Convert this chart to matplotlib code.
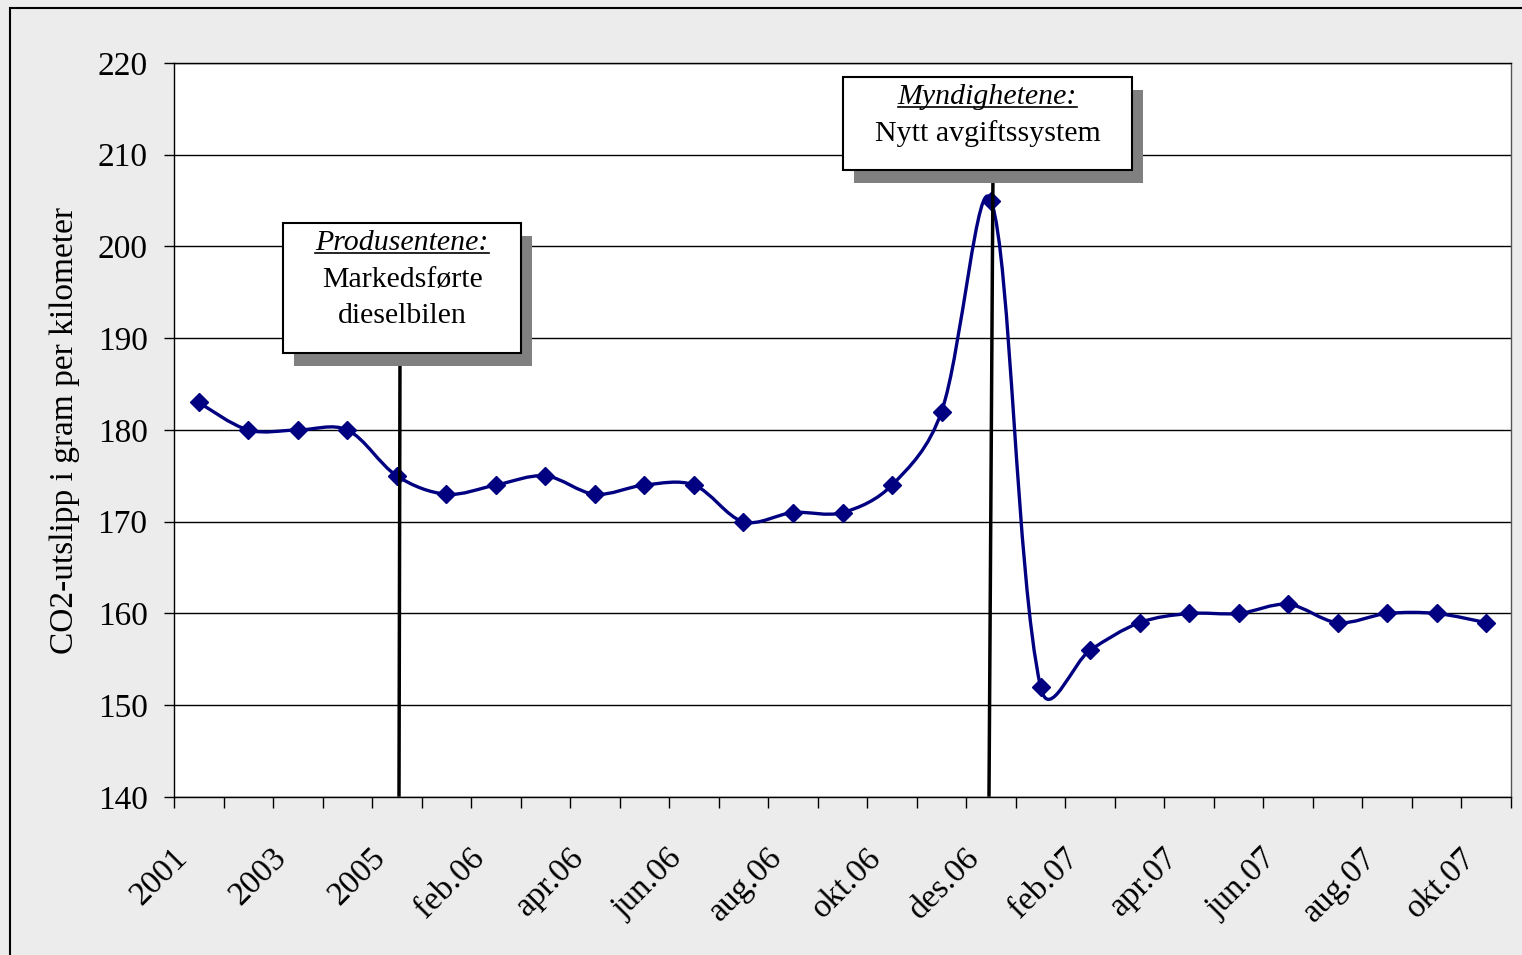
import numpy as np
import matplotlib
matplotlib.use("Agg")
import matplotlib.pyplot as plt
from matplotlib.path import Path
from matplotlib.patches import PathPatch, Rectangle
from matplotlib.lines import Line2D
import matplotlib.transforms as mtransforms

categories = ["2001", "2002", "2003", "2004", "2005", "jan.06", "feb.06", "mar.06",
              "apr.06", "mai.06", "jun.06", "jul.06", "aug.06", "sep.06", "okt.06",
              "nov.06", "des.06", "jan.07", "feb.07", "mar.07", "apr.07", "mai.07",
              "jun.07", "jul.07", "aug.07", "sep.07", "okt.07"]
values = [183, 180, 180, 180, 175, 173, 174, 175, 173, 174, 174, 170, 171, 171,
          174, 182, 205, 152, 156, 159, 160, 160, 161, 159, 160, 160, 159]
y_ticks = [140, 150, 160, 170, 180, 190, 200, 210, 220]
ylabel = "CO2-utslipp i gram per kilometer"
event_titles = ["Produsentene:", "Myndighetene:"]
event_lines = [["Markedsførte", "dieselbilen"], ["Nytt avgiftssystem"]]

W, H = 1522, 955
plt.rcParams['font.family'] = ['Liberation Serif', 'DejaVu Serif']
fig = plt.figure(figsize=(W / 100, H / 100), dpi=100)
fig.patch.set_facecolor("#ececec")

def fx(px):
    return px / W

def fy(py):
    return 1 - py / H

# outer chart-area frame
fig.patches.append(Rectangle((fx(10), fy(H + 20)), fx(W + 50), fy(8) - fy(H + 20),
                             transform=fig.transFigure, fill=False, edgecolor="black",
                             linewidth=1.5, zorder=0))

L, T, R, B = 174, 63, 1511, 797
ax = fig.add_axes([fx(L), fy(B), fx(R) - fx(L), fy(T) - fy(B)])
ax.set_facecolor("white")
n = len(values)
x = np.arange(n)
ax.set_xlim(-0.5, n - 0.5)
ax.set_ylim(y_ticks[0], y_ticks[-1])
ax.set_yticks(y_ticks)
ax.set_yticklabels([str(v) for v in y_ticks], fontsize=24)
ax.tick_params(axis='y', direction='out', length=7, width=1, pad=12)
ax.set_xticks(np.arange(-0.5, n, 1.0))
ax.set_xticklabels([])
ax.tick_params(axis='x', direction='out', length=8, width=1)
ax.grid(axis='y', color='black', linewidth=1)
ax.set_axisbelow(True)
for s in ax.spines.values():
    s.set_linewidth(1)
    s.set_color('black')
ax.spines['right'].set_color('#555555')

# x labels (every second category), rotated
offs = mtransforms.ScaledTranslation(-10 / 100, -62 / 100, fig.dpi_scale_trans)
tr = mtransforms.blended_transform_factory(ax.transData, ax.transAxes) + offs
for i in range(0, n, 2):
    ax.text(i, 0, categories[i], transform=tr, rotation=45, rotation_mode='anchor',
            ha='right', va='baseline', fontsize=24, clip_on=False)

# smoothed line: bezier through data points (centripetal-style tangent scaling)
pts = np.column_stack([x, values]).astype(float)
spts = ax.transData.transform(pts)
verts = [tuple(pts[0])]
codes = [Path.MOVETO]

def d(a, b):
    return float(np.hypot(*(spts[a] - spts[b]))) ** 0.5

for i in range(n - 1):
    i0, i1, i2, i3 = max(i - 1, 0), i, i + 1, min(i + 2, n - 1)
    d01, d12, d23 = d(i0, i1), d(i1, i2), d(i2, i3)
    f1 = d12 / (d01 + d12) if i0 != i1 else 0.5
    f2 = d12 / (d12 + d23) if i2 != i3 else 0.5
    c1 = pts[i1] + (pts[i2] - pts[i0]) * f1 / 3
    c2 = pts[i2] - (pts[i3] - pts[i1]) * f2 / 3
    verts += [tuple(c1), tuple(c2), tuple(pts[i2])]
    codes += [Path.CURVE4] * 3
ax.add_patch(PathPatch(Path(verts, codes), fill=False, edgecolor='#000080',
                       linewidth=2.4, zorder=3))
ax.plot(x, values, linestyle='none', marker='D', markersize=9.5, color='#000080', zorder=4)

# event boxes
boxes = [(283, 223, 521, 353), (843, 77, 1132, 170)]
lines = [((400, 353), (399, 795)), ((993, 170), (989, 795))]
title_y = [243, 97]
text_y = [[280, 316], [134]]
for k in range(2):
    bx0, by0, bx1, by1 = boxes[k]
    (lx0, ly0), (lx1, ly1) = lines[k]
    fig.lines.append(Line2D([fx(lx0), fx(lx1)], [fy(ly0), fy(ly1)], transform=fig.transFigure,
                            color='black', linewidth=2.5, zorder=5))
    fig.patches.append(Rectangle((fx(bx0 + 11), fy(by1 + 13)), fx(bx1 - bx0), fy(by0) - fy(by1),
                                 transform=fig.transFigure, facecolor='#808080',
                                 edgecolor='none', zorder=6))
    fig.patches.append(Rectangle((fx(bx0), fy(by1)), fx(bx1 - bx0), fy(by0) - fy(by1),
                                 transform=fig.transFigure, facecolor='white',
                                 edgecolor='black', linewidth=1.5, zorder=7))
    cx = (bx0 + bx1) / 2
    t = fig.text(fx(cx), fy(title_y[k]), event_titles[k], ha='center', va='center',
                 fontsize=21.5, style='italic', zorder=8)
    for line, ly in zip(event_lines[k], text_y[k]):
        fig.text(fx(cx), fy(ly), line, ha='center', va='center', fontsize=21.5, zorder=8)
    fig.canvas.draw()
    bb = t.get_window_extent()
    uy = bb.y0 + 3
    fig.lines.append(Line2D([bb.x0 / W, bb.x1 / W], [uy / H, uy / H], transform=fig.transFigure,
                            color='black', linewidth=1.2, zorder=8))

fig.text(fx(65), fy(430), ylabel, rotation=90, ha='center', va='center', fontsize=24)

fig.savefig("out.png", dpi=100, facecolor=fig.get_facecolor())
